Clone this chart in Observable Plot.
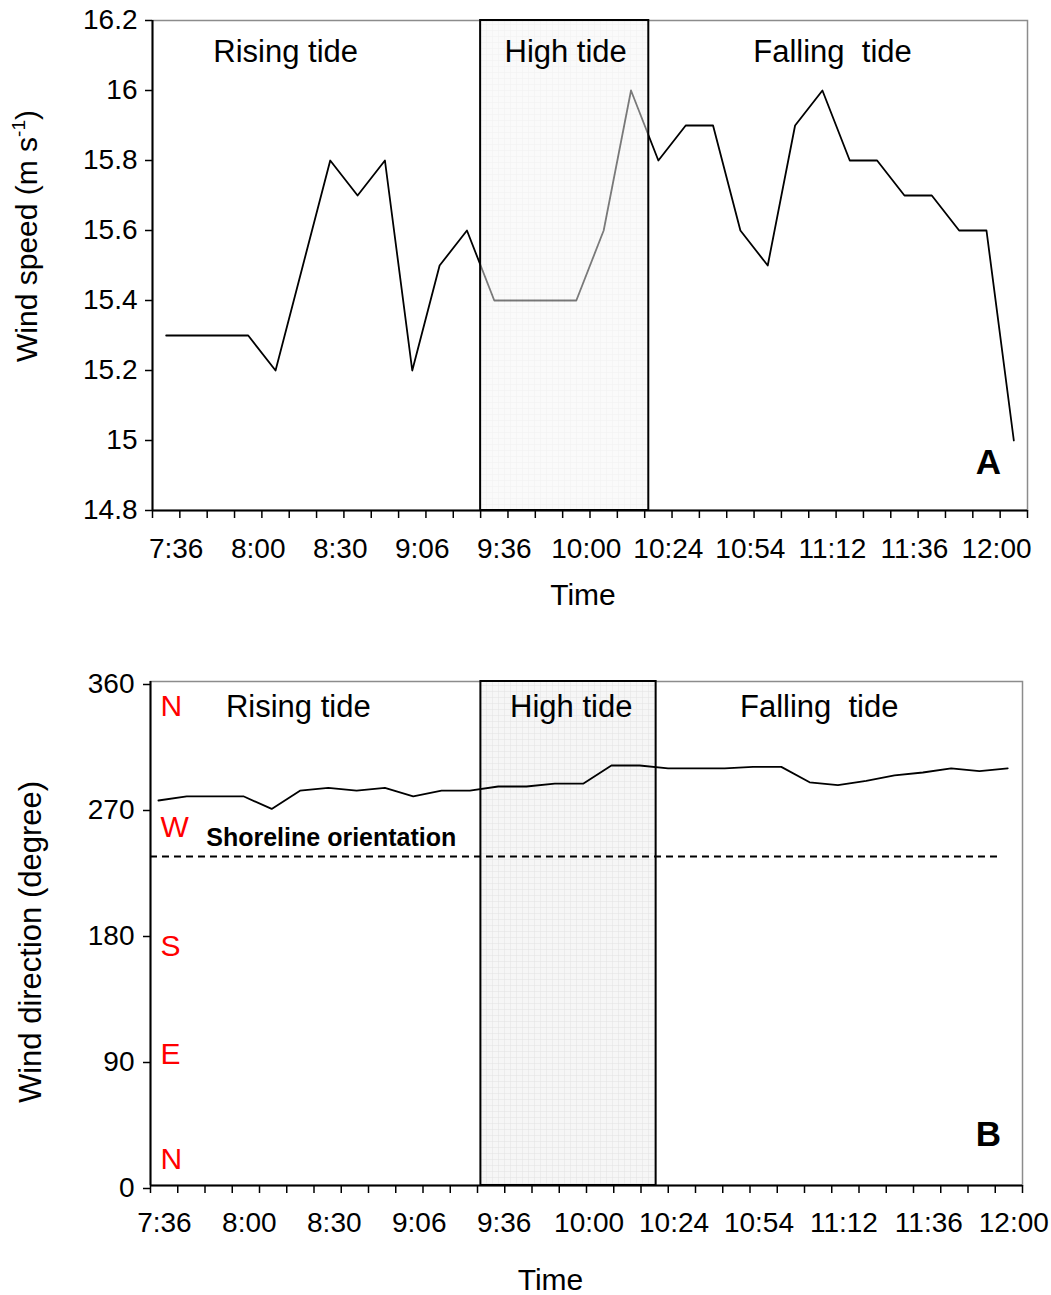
<!DOCTYPE html>
<html>
<head>
<meta charset="utf-8">
<script src="https://cdn.jsdelivr.net/npm/d3@7"></script>
<script src="https://cdn.jsdelivr.net/npm/@observablehq/plot@0.6"></script>
<style>
  body { margin: 0; background: #fff; }
  #chart svg { display: block; }
  #chart svg text { white-space: pre; }
</style>
</head>
<body>
<div id="chart"></div>
<script>
// Time labels shown under every third observation
const timeLabels = ["7:36", "8:00", "8:30", "9:06", "9:36", "10:00", "10:24", "10:54", "11:12", "11:36", "12:00"];

// Panel A: wind speed (m/s) per observation
const windSpeed = [15.3, 15.3, 15.3, 15.3, 15.2, 15.5, 15.8, 15.7, 15.8, 15.2, 15.5, 15.6,
                   15.4, 15.4, 15.4, 15.4, 15.6, 16.0, 15.8, 15.9, 15.9, 15.6, 15.5, 15.9,
                   16.0, 15.8, 15.8, 15.7, 15.7, 15.6, 15.6, 15.0];
const speedTicks = [14.8, 15, 15.2, 15.4, 15.6, 15.8, 16, 16.2];

// Panel B: wind direction (degrees) per observation
const windDirection = [275, 278, 278, 278, 269, 282, 284, 282, 284, 278, 282, 282, 285, 285,
                       287, 287, 300, 300, 298, 298, 298, 299, 299, 288, 286, 289, 293, 295,
                       298, 296, 298];
const directionTicks = [0, 90, 180, 270, 360];
const shoreline = 235;

// Tide phases and compass points
const tidePhases = ["Rising tide", "High tide", "Falling  tide"];
const compassPoints = ["N", "W", "S", "E", "N"];
const compassDegrees = [342, 256, 171, 94, 19];

// High-tide window, in observation units of each panel
const highTideA = {start: 12, end: 18.15};
const highTideB = {start: 11.39, end: 17.58};

const font = "'Liberation Sans', Arial, Helvetica, sans-serif";

function addGridPattern(svg, id) {
  const defs = d3.select(svg).insert("defs", ":first-child");
  const p = defs.append("pattern").attr("id", id)
    .attr("width", 6).attr("height", 6).attr("patternUnits", "userSpaceOnUse");
  p.append("rect").attr("width", 6).attr("height", 6).attr("fill", "#f6f6f6");
  p.append("path").attr("d", "M6 0H0V6").attr("fill", "none")
    .attr("stroke", "#e2e2e2").attr("stroke-width", 1);
}

// ---------- Panel A: wind speed ----------
const speedData = windSpeed.map((v, i) => ({i, v}));
const nA = windSpeed.length;

const plotA = Plot.plot({
  width: 1051, height: 625,
  marginLeft: 152, marginRight: 24, marginTop: 20, marginBottom: 115,
  style: {fontFamily: font, fontSize: "28px", color: "#000", background: "#fff", overflow: "visible"},
  x: {domain: [0, nA], axis: null},
  y: {domain: [14.8, 16.2], axis: null},
  marks: [
    Plot.frame({stroke: "#8c8c8c", strokeWidth: 1.5}),
    Plot.line(speedData, {x: d => d.i + 0.5, y: "v", stroke: "#000", strokeWidth: 1.8}),
    Plot.rect([highTideA], {x1: "start", x2: "end", fill: "url(#tideGridA)", fillOpacity: 0.5,
                            stroke: "#000", strokeWidth: 2}),
    Plot.ruleX([0], {stroke: "#000", strokeWidth: 2}),
    Plot.ruleY([14.8], {stroke: "#000", strokeWidth: 2}),
    Plot.axisY({ticks: speedTicks, tickFormat: d => String(d), tickSize: 7, tickPadding: 8,
                fontSize: 28, label: null, strokeWidth: 1.5}),
    Plot.axisX({ticks: d3.range(0, nA + 1), tickFormat: () => "", tickSize: 8, label: null, strokeWidth: 1.5}),
    Plot.text(timeLabels, {x: (d, i) => 3 * i + 0.5, frameAnchor: "bottom", lineAnchor: "top",
                           dy: 28, dx: 10, fontSize: 28}),
    Plot.text(["Time"], {frameAnchor: "bottom", lineAnchor: "middle", dy: 85, dx: -7, fontSize: 30}),
    Plot.text(tidePhases, {x: [4.87, 15.11, 24.87], frameAnchor: "top", lineAnchor: "middle",
                           dy: 32, fontSize: 31}),
    Plot.text(["A"], {frameAnchor: "bottom-right", lineAnchor: "middle", textAnchor: "middle",
                      dx: -39, dy: -48, fontSize: 35, fontWeight: "bold"})
  ]
});
addGridPattern(plotA, "tideGridA");

// rotated y title with a superscript unit
{
  const t = d3.select(plotA).append("text")
    .attr("transform", "translate(37,236) rotate(-90)")
    .attr("text-anchor", "middle")
    .attr("font-family", font).attr("font-size", 30).attr("fill", "#000");
  t.append("tspan").text("Wind speed (m s");
  t.append("tspan").attr("font-size", 19).attr("dy", -12).text("-1");
  t.append("tspan").attr("dy", 12).text(")");
}

// ---------- Panel B: wind direction ----------
const dirData = windDirection.map((v, i) => ({i, v}));
const xB = [-0.28, 30.52];
const tickPosB = d3.range(33).map(k => xB[0] + k * (xB[1] - xB[0]) / 32);

const plotB = Plot.plot({
  width: 1051, height: 670,
  marginLeft: 150, marginRight: 29, marginTop: 56, marginBottom: 110,
  style: {fontFamily: font, fontSize: "28px", color: "#000", background: "#fff", overflow: "visible"},
  x: {domain: xB, axis: null},
  y: {domain: [0, 360], axis: null},
  marks: [
    Plot.frame({stroke: "#8c8c8c", strokeWidth: 1.5}),
    Plot.rect([highTideB], {x1: "start", x2: "end", fill: "url(#tideGridB)",
                            stroke: "#000", strokeWidth: 2}),
    Plot.ruleY([shoreline], {x1: xB[0], x2: 29.8, stroke: "#000", strokeWidth: 1.8,
                             strokeDasharray: "7,5"}),
    Plot.line(dirData, {x: "i", y: "v", stroke: "#000", strokeWidth: 1.8}),
    Plot.ruleX([xB[0]], {stroke: "#000", strokeWidth: 2}),
    Plot.ruleY([0], {stroke: "#000", strokeWidth: 2}),
    Plot.axisY({ticks: directionTicks, tickSize: 7, tickPadding: 9, fontSize: 28, label: null,
                strokeWidth: 1.5, dy: 3}),
    Plot.axisX({ticks: tickPosB, tickFormat: () => "", tickSize: 8, label: null, strokeWidth: 1.5}),
    Plot.text(timeLabels, {x: (d, i) => 3 * i, frameAnchor: "bottom", lineAnchor: "top",
                           dy: 27, dx: 6, fontSize: 28}),
    Plot.text(["Time"], {frameAnchor: "bottom", lineAnchor: "middle", dy: 95, dx: -36, fontSize: 30}),
    Plot.text(tidePhases, {x: [4.94, 14.58, 23.34], frameAnchor: "top", lineAnchor: "middle",
                           dy: 26, fontSize: 31}),
    Plot.text(compassPoints, {y: compassDegrees, frameAnchor: "left", textAnchor: "start",
                              lineAnchor: "middle", dx: 10, fill: "#ff0000", fontSize: 30}),
    Plot.text(["Shoreline orientation"], {x: 1.69, y: [shoreline], textAnchor: "start",
                                          lineAnchor: "middle", dy: -19, fontSize: 25, fontWeight: "bold"}),
    Plot.text(["B"], {frameAnchor: "bottom-right", lineAnchor: "middle", textAnchor: "middle",
                      dx: -34, dy: -51, fontSize: 35, fontWeight: "bold"})
  ]
});
addGridPattern(plotB, "tideGridB");

{
  d3.select(plotB).append("text")
    .attr("transform", "translate(41,317) rotate(-90)")
    .attr("text-anchor", "middle")
    .attr("font-family", font).attr("font-size", 31).attr("fill", "#000")
    .text("Wind direction (degree)");
}

document.getElementById("chart").append(plotA, plotB);
</script>
</body>
</html>
